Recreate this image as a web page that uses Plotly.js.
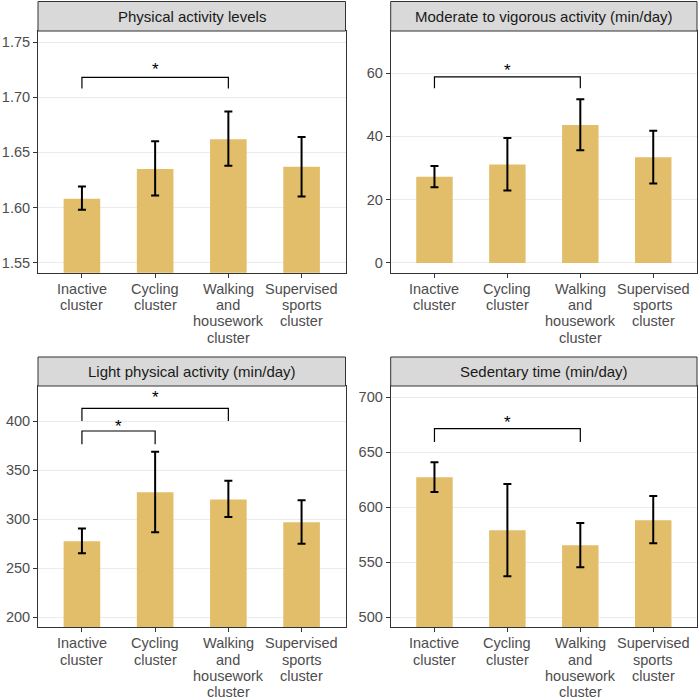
<!DOCTYPE html>
<html>
<head>
<meta charset="utf-8">
<script src="https://cdn.plot.ly/plotly-3.0.1.min.js"></script>
<style>html,body{margin:0;padding:0;background:#fff;}#chart{width:700px;height:699px;}</style>
</head>
<body>
<div id="chart"></div>
<script>
// ---- data ----
const categories = ['Inactive cluster', 'Cycling cluster', 'Walking and housework cluster', 'Supervised sports cluster'];
const categoryLabelLines = [['Inactive', 'cluster'], ['Cycling', 'cluster'], ['Walking', 'and', 'housework', 'cluster'], ['Supervised', 'sports', 'cluster']];

const panelTitles = ['Physical activity levels', 'Moderate to vigorous activity (min/day)', 'Light physical activity (min/day)', 'Sedentary time (min/day)'];

const paMean = [1.608, 1.635, 1.662, 1.637];
const paLow = [1.598, 1.611, 1.638, 1.610];
const paHigh = [1.619, 1.660, 1.687, 1.664];

const mvpaMean = [27.2, 31.1, 43.6, 33.4];
const mvpaLow = [23.9, 22.9, 35.6, 25.1];
const mvpaHigh = [30.6, 39.5, 51.7, 41.8];

const lpaMean = [277.7, 327.5, 320.3, 297.0];
const lpaLow = [265.3, 286.8, 302.4, 275.1];
const lpaHigh = [290.5, 368.8, 339.3, 319.4];

const sedMean = [627.0, 578.8, 565.2, 588.0];
const sedLow = [613.7, 537.0, 545.2, 567.1];
const sedHigh = [640.6, 620.9, 585.5, 610.0];

const paTicks = [1.55, 1.60, 1.65, 1.70, 1.75];
const mvpaTicks = [0, 20, 40, 60];
const lpaTicks = [200, 250, 300, 350, 400];
const sedTicks = [500, 550, 600, 650, 700];

// significance brackets: from/to category index, bracket level, leg end, star level
const paSig = [{from: 0, to: 2, y: 1.718, leg: 1.708, star: 1.7275}];
const mvpaSig = [{from: 0, to: 2, y: 58.8, leg: 55.2, star: 61.5}];
const lpaSig = [{from: 0, to: 2, y: 413.2, leg: 400.3, star: 426.5}, {from: 0, to: 1, y: 390.1, leg: 376.6, star: 397.7}];
const sedSig = [{from: 0, to: 2, y: 671.2, leg: 659.0, star: 678.8}];

// ---- layout helpers ----
const W = 700, H = 699;
const FONT = 'Liberation Sans, Arial, Helvetica, sans-serif';
const panels = [
  {mean: paMean, lo: paLow, hi: paHigh, ticks: paTicks, fmt: '.2f', range: [1.541, 1.760], sig: paSig,
   px: [38, 345.5], py: [31, 272.7], strip: [1.5, 31]},
  {mean: mvpaMean, lo: mvpaLow, hi: mvpaHigh, ticks: mvpaTicks, fmt: 'd', range: [-3.1, 73.3], sig: mvpaSig,
   px: [390.7, 697], py: [31, 272.7], strip: [1.5, 31]},
  {mean: lpaMean, lo: lpaLow, hi: lpaHigh, ticks: lpaTicks, fmt: 'd', range: [189.8, 436], sig: lpaSig,
   px: [38, 345.5], py: [386, 627.3], strip: [357, 386]},
  {mean: sedMean, lo: sedLow, hi: sedHigh, ticks: sedTicks, fmt: 'd', range: [490.7, 710], sig: sedSig,
   px: [390.7, 697], py: [386, 627.3], strip: [357, 386]}
];

const data = [];
const shapes = [];
const annotations = [];
const layout = {
  width: W, height: H,
  margin: {l: 0, r: 0, t: 0, b: 0},
  paper_bgcolor: '#ffffff', plot_bgcolor: '#ffffff',
  showlegend: false,
  font: {family: FONT, color: '#4d4d4d', size: 14.5}
};

panels.forEach((p, i) => {
  const n = i + 1;
  const xa = n === 1 ? 'x' : 'x' + n;
  const ya = n === 1 ? 'y' : 'y' + n;
  const xkey = n === 1 ? 'xaxis' : 'xaxis' + n;
  const ykey = n === 1 ? 'yaxis' : 'yaxis' + n;

  data.push({
    type: 'bar', x: categories, y: p.mean, xaxis: xa, yaxis: ya,
    width: 0.5,
    marker: {color: '#E2BE6A', line: {width: 0}},
    error_y: {
      type: 'data', symmetric: false,
      array: p.hi.map((v, k) => v - p.mean[k]),
      arrayminus: p.mean.map((v, k) => v - p.lo[k]),
      color: '#000000', thickness: 2, width: 4
    },
    hoverinfo: 'skip'
  });

  layout[xkey] = {
    domain: [p.px[0] / W, p.px[1] / W],
    anchor: ya, type: 'category',
    range: [-0.6, 3.6],
    showgrid: false, zeroline: false,
    showline: true, mirror: true, linecolor: '#333333', linewidth: 1,
    ticks: 'outside', ticklen: 4, tickwidth: 1, tickcolor: '#333333',
    showticklabels: false, fixedrange: true
  };
  layout[ykey] = {
    domain: [(H - p.py[1]) / H, (H - p.py[0]) / H],
    anchor: xa,
    range: p.range,
    tickvals: p.ticks,
    tickformat: p.fmt,
    showgrid: true, gridcolor: '#ebebeb', gridwidth: 1,
    zeroline: false,
    showline: true, mirror: true, linecolor: '#333333', linewidth: 1,
    ticks: 'outside', ticklen: 4, tickwidth: 1, tickcolor: '#333333',
    tickfont: {family: FONT, size: 14.5, color: '#4d4d4d'},
    fixedrange: true
  };

  // strip
  shapes.push({
    type: 'rect', xref: 'paper', yref: 'paper',
    x0: p.px[0] / W, x1: p.px[1] / W,
    y0: (H - p.strip[1]) / H, y1: (H - p.strip[0]) / H,
    fillcolor: '#d9d9d9', line: {color: '#333333', width: 1}, layer: 'above'
  });
  annotations.push({
    xref: 'paper', yref: 'paper',
    x: (p.px[0] + p.px[1]) / 2 / W, y: (H - (p.strip[0] + p.strip[1]) / 2) / H,
    text: panelTitles[i], showarrow: false, xanchor: 'center', yanchor: 'middle',
    font: {family: FONT, size: 15, color: '#1a1a1a'}
  });

  // category labels
  categoryLabelLines.forEach((lines, c) => {
    lines.forEach((ln, k) => {
      annotations.push({
        xref: xa, yref: ya + ' domain',
        x: categories[c], y: 0,
        yshift: -(15.8 + k * 16.4),
        text: ln, showarrow: false, xanchor: 'center', yanchor: 'middle',
        font: {family: FONT, size: 14.5, color: '#4d4d4d'}
      });
    });
  });

  // significance brackets
  p.sig.forEach(s => {
    shapes.push({
      type: 'path', xref: xa, yref: ya,
      path: 'M ' + s.from + ',' + s.leg + ' L ' + s.from + ',' + s.y + ' L ' + s.to + ',' + s.y + ' L ' + s.to + ',' + s.leg,
      line: {color: '#000000', width: 1.2}
    });
    annotations.push({
      xref: xa, yref: ya,
      x: (s.from + s.to) / 2, y: s.star,
      yshift: -2.5,
      text: '*', showarrow: false, xanchor: 'center', yanchor: 'middle',
      font: {family: FONT, size: 17, color: '#000000'}
    });
  });
});

layout.shapes = shapes;
layout.annotations = annotations;

Plotly.newPlot('chart', data, layout, {displayModeBar: false, staticPlot: true});
</script>
</body>
</html>
